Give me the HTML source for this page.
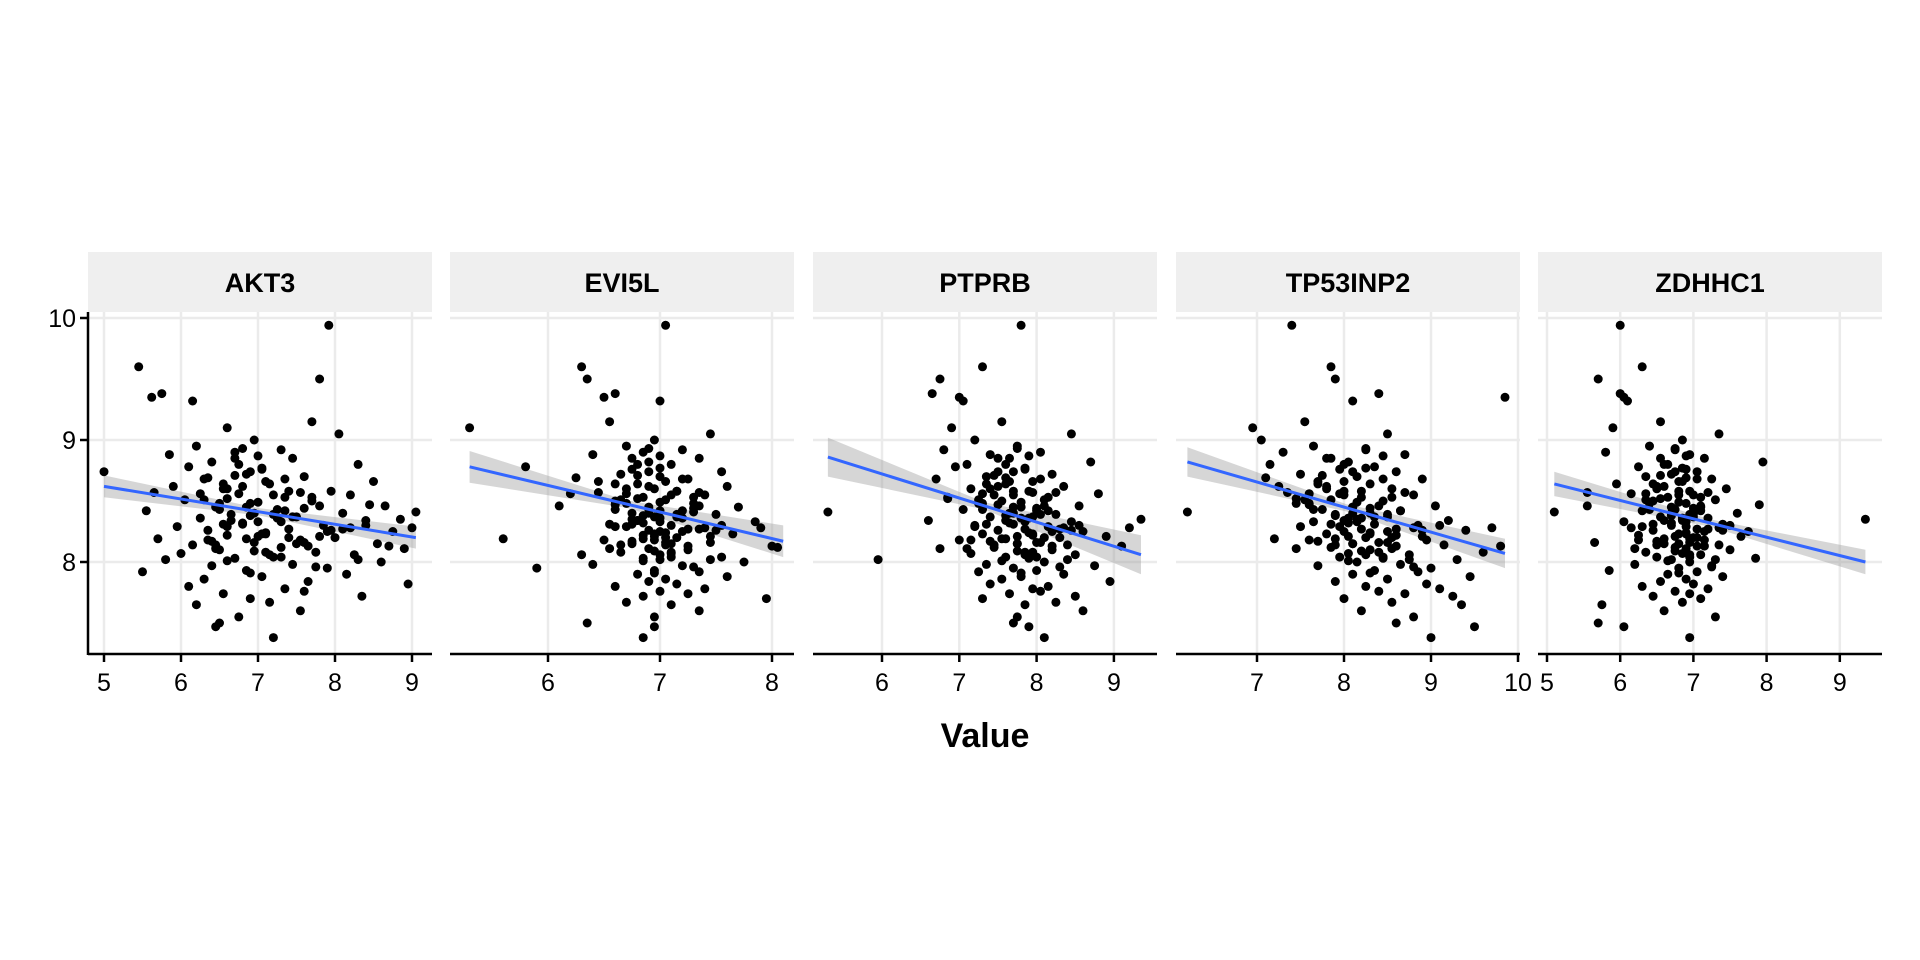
<!DOCTYPE html>
<html><head><meta charset="utf-8"><style>
html,body{margin:0;padding:0;background:#fff;}
svg{display:block;font-family:"Liberation Sans",sans-serif;}
</style></head><body>
<svg id="chart" width="1920" height="960" viewBox="0 0 1920 960" xmlns="http://www.w3.org/2000/svg">
<rect width="1920" height="960" fill="#fff"/>
<text x="985" y="747" text-anchor="middle" font-size="34" font-weight="bold">Value</text>
</svg>
<script>
const panelNames = ["AKT3","EVI5L","PTPRB","TP53INP2","ZDHHC1"];
const yTicks = [8,9,10];
const xTicks = [[5,6,7,8,9],[6,7,8],[6,7,8,9],[7,8,9,10],[5,6,7,8,9]];
const yVals = [9.94,9.60,9.50,9.38,9.35,9.32,9.15,9.10,9.05,9.00,
8.95,8.92,8.90,8.88,8.85,8.82,8.80,8.78,8.76,8.74,
8.72,8.70,8.68,8.66,8.64,8.62,8.60,8.58,8.56,8.55,
8.53,8.51,8.50,8.48,8.46,8.45,8.43,8.42,8.40,8.39,
8.37,8.36,8.34,8.33,8.31,8.30,8.29,8.27,8.26,8.25,
8.23,8.22,8.20,8.19,8.18,8.16,8.15,8.14,8.12,8.11,
8.10,8.08,8.07,8.06,8.04,8.03,8.02,8.00,7.98,7.97,
7.95,7.93,7.92,7.90,7.88,7.86,7.84,7.82,7.80,7.78,
7.76,7.74,7.72,7.70,7.67,7.65,7.60,7.55,7.50,7.47,
8.41,8.35,8.28,8.47,8.52,8.21,8.13,8.57,8.69,7.38,
8.62,8.55,8.48,8.44,8.38,8.33,8.29,8.25,8.21,8.17,
8.71,8.66,8.58,8.51,8.46,8.40,8.36,8.31,8.27,8.23,
8.19,8.15,8.11,8.06,8.02,8.80,8.74,8.68,8.60,8.53,
8.49,8.43,8.37,8.32,8.28,8.24,8.18,8.13,8.09,8.04,
8.85,8.77,8.64,8.57,8.45,8.39,8.34,8.26,8.20,8.14,
8.08,8.01,7.96,7.91,8.93,8.87,8.56,8.42,8.30,8.16];
const xAKT3 = [7.92,5.45,7.80,5.75,5.62,6.15,7.70,6.60,8.05,6.95,
6.20,7.30,6.70,5.85,7.45,6.40,8.30,6.10,7.05,5.00,
6.85,7.60,6.30,8.50,7.15,5.90,6.55,7.95,6.75,8.20,
7.35,6.05,7.70,6.90,8.65,6.45,7.25,5.55,8.10,6.65,
7.50,6.25,8.40,7.00,6.80,7.85,5.95,7.40,6.35,8.75,
7.10,6.60,8.00,5.70,7.55,6.95,8.55,6.15,7.30,8.90,
6.50,7.75,6.00,8.25,7.20,6.70,5.80,8.60,7.45,6.40,
7.90,6.85,5.50,8.15,7.05,6.30,7.65,8.95,6.10,7.35,
7.60,6.55,8.35,6.90,7.15,6.20,7.55,6.75,6.50,6.45,
9.05,8.85,9.00,8.45,6.60,7.80,8.70,5.65,6.35,7.20,
6.8,7.2,6.5,7.6,6.9,7.3,6.6,7.9,7.0,6.4,
6.7,7.1,7.4,6.3,7.8,6.95,7.25,6.55,8.1,7.05,
6.85,7.5,6.45,7.15,8.3,6.75,6.9,7.35,6.6,7.7,
7.0,6.5,7.45,6.8,8.2,7.1,6.35,7.65,6.95,7.3,
6.7,7.05,6.55,7.55,6.85,7.2,6.65,7.95,7.4,6.45,
7.1,6.6,7.75,6.9,6.8,7.0,6.25,7.35,8.4,7.6];
const xEVI5L = [7.05,6.30,6.35,6.60,6.50,7.00,6.55,5.30,7.45,6.95,
6.70,7.20,6.85,6.40,7.35,6.90,7.10,5.80,6.75,7.55,
6.65,7.00,7.25,6.45,6.80,7.60,6.95,7.15,6.20,7.40,
6.85,7.05,6.60,7.30,6.10,7.70,6.90,7.00,6.75,7.50,
6.95,7.20,6.80,7.85,6.55,7.10,6.70,7.35,6.90,7.00,
7.65,6.85,7.15,5.60,6.95,7.45,6.75,7.05,8.05,6.90,
7.25,6.65,7.10,6.30,7.55,6.85,7.00,7.75,6.40,7.20,
5.90,6.95,7.35,6.80,7.60,7.05,6.90,7.15,6.60,7.40,
7.00,7.25,6.85,7.95,6.70,7.10,7.35,6.95,6.35,6.95,
7.30,6.75,7.90,6.60,6.80,7.45,8.00,6.45,6.25,6.85,
6.9,7.1,6.7,7.3,6.85,7.0,6.6,7.2,6.95,6.75,
6.8,7.05,7.15,6.65,7.35,6.9,7.0,6.75,7.25,6.95,
6.85,7.1,6.55,7.0,7.45,6.8,6.9,7.2,6.7,7.3,
7.0,6.6,7.15,6.85,7.4,7.05,6.5,7.25,6.95,7.1,
6.75,7.0,6.6,7.35,6.9,7.15,6.8,7.5,7.05,6.65,
7.1,6.85,7.3,6.95,6.9,7.0,6.7,7.2,7.55,7.05];
const xPTPRB = [7.80,7.30,6.75,6.65,7.00,7.05,7.55,6.90,8.45,7.20,
7.75,6.80,8.05,7.40,7.65,8.70,7.10,6.95,7.85,7.50,
8.20,7.35,6.70,7.95,7.60,8.35,7.15,7.70,8.80,7.45,
6.85,8.10,7.55,7.25,8.55,7.80,7.05,8.00,7.65,8.25,
7.40,7.90,6.60,8.45,7.70,7.20,8.15,7.85,7.50,8.60,
7.30,7.95,8.30,7.60,7.00,8.05,7.75,8.40,7.45,6.75,
8.20,7.85,7.15,8.50,7.60,7.90,5.95,8.10,7.35,8.75,
7.70,8.00,7.25,8.35,7.80,7.55,8.95,7.40,8.15,7.95,
8.05,7.65,8.50,7.30,8.25,7.85,8.60,7.75,7.70,7.90,
5.30,9.35,9.20,7.50,6.85,8.90,9.10,7.95,7.60,8.10,
7.5,7.7,7.3,8.0,7.6,7.85,7.2,8.2,7.75,7.4,
7.45,7.65,7.9,7.25,8.1,7.7,7.8,7.35,8.3,7.95,
7.55,7.75,7.1,7.85,8.4,7.6,7.7,8.05,7.4,8.15,
7.8,7.3,7.95,7.65,8.35,7.9,7.15,8.2,7.75,8.0,
7.5,7.85,7.35,8.25,7.7,8.05,7.6,8.45,8.1,7.45,
7.95,7.55,8.3,7.8,7.75,7.9,7.3,8.15,8.55,8.0];
const xTP53INP2 = [7.40,7.85,7.90,8.40,9.85,8.10,7.55,6.95,8.50,7.05,
7.65,8.25,7.30,8.70,7.80,8.05,7.15,8.35,7.95,8.60,
7.50,8.15,8.90,7.70,8.30,7.25,8.55,8.00,7.60,8.80,
8.20,7.85,8.45,7.45,9.05,8.10,7.75,8.65,8.30,7.90,
8.50,8.05,9.20,7.65,8.35,8.85,7.95,8.20,9.40,8.00,
7.80,8.60,8.25,7.20,8.95,8.40,8.10,9.15,7.85,8.55,
8.30,9.60,8.05,8.75,7.95,8.45,9.30,8.15,8.65,7.70,
9.00,8.35,8.85,8.10,9.45,8.50,7.90,8.95,8.25,9.10,
8.40,8.70,9.25,8.00,8.55,9.35,8.20,8.80,8.60,9.50,
6.20,8.15,9.70,7.60,7.45,8.90,9.80,7.35,7.10,9.00,
7.8,8.0,7.6,8.3,7.9,8.15,7.5,8.5,8.05,7.7,
7.75,8.0,8.2,7.55,8.4,8.1,8.2,7.85,8.6,8.3,
7.9,8.1,7.45,8.25,8.75,8.0,8.1,8.45,7.8,8.55,
8.15,7.65,8.35,8.05,8.8,8.3,7.6,8.6,8.2,8.45,
7.85,8.25,7.7,8.7,8.1,8.5,8.0,8.9,8.55,7.9,
8.4,8.05,8.8,8.3,8.25,8.45,7.95,8.65,9.1,8.5];
const xZDHHC1 = [6.00,6.30,5.70,6.00,6.05,6.10,6.55,5.90,7.35,6.85,
6.40,6.75,5.80,6.95,7.15,7.95,6.60,6.25,6.90,7.05,
6.70,6.35,7.25,6.85,5.95,6.50,7.45,6.80,6.15,7.00,
6.65,7.30,6.45,6.90,5.55,7.10,6.75,6.30,7.60,6.95,
6.55,7.20,6.85,6.05,7.40,6.70,6.90,7.05,6.45,7.75,
6.80,6.25,7.00,6.95,7.15,5.65,6.60,7.35,6.75,6.90,
7.50,6.35,6.85,7.10,6.50,7.85,6.70,6.95,6.20,7.25,
6.80,5.85,7.05,6.65,7.40,6.90,6.55,7.00,6.30,7.20,
6.75,6.95,6.45,7.10,6.85,5.75,6.60,7.30,5.70,6.05,
5.10,9.35,6.15,7.90,6.55,7.65,7.05,5.55,6.90,6.95,
6.6,6.8,6.4,7.0,6.7,6.9,6.3,7.15,6.75,6.5,
6.55,6.8,6.95,6.35,7.1,6.7,6.85,6.45,7.2,6.9,
6.6,6.8,6.2,6.95,7.3,6.65,6.75,7.05,6.5,7.1,
6.8,6.4,7.0,6.7,7.35,6.9,6.25,7.15,6.75,6.95,
6.55,6.85,6.45,7.2,6.7,7.0,6.6,7.4,7.05,6.5,
6.9,6.65,7.25,6.8,6.75,6.9,6.35,7.1,7.5,6.95];
// regression fit: x range and fitted y at each end, band half-width at ends and middle
const fitX0 = [5.0,5.3,5.3,6.2,5.1];
const fitX1 = [9.05,8.1,9.35,9.85,9.35];
const fitY0 = [8.62,8.78,8.86,8.82,8.64];
const fitY1 = [8.20,8.17,8.06,8.07,8.00];
const bandEnd = [0.09,0.13,0.16,0.12,0.10];
const bandMid = [0.03,0.03,0.03,0.03,0.03];

const xSeries = [xAKT3,xEVI5L,xPTPRB,xTP53INP2,xZDHHC1];
const panelLeft = [88,450,813,1176,1538];
const panelW = 344;
const xAnchorVal = [5,6,6,7,5], xAnchorPx = [104,548,882,1257,1547], xUnitPx = [77,112,77.3,87,73.2];
const plotTop = 312, plotBot = 654, stripTop = 252;
function yScale(v){ return 562 - (v-8)*122; }
function xScale(p,v){ return xAnchorPx[p] + (v - xAnchorVal[p]) * xUnitPx[p]; }

const svg = document.getElementById('chart');
const NS = 'http://www.w3.org/2000/svg';
function mk(tag, attrs, parent){
  const e = document.createElementNS(NS, tag);
  for (const k in attrs) e.setAttribute(k, attrs[k]);
  (parent||svg).appendChild(e);
  return e;
}

for (let p=0; p<5; p++){
  const g = mk('g', {});
  
  
  const L = panelLeft[p], R = L + panelW;
  const strip = mk('rect', {x:L, y:stripTop, width:panelW, height:plotTop-stripTop, fill:'#efefef'}, g);
  
  
  const st = mk('text', {x:L+panelW/2, y:292, 'text-anchor':'middle', 'font-size':27, 'font-weight':'bold', fill:'#000'}, g);
  st.textContent = panelNames[p];
  
  
  yTicks.forEach(t => {
    const gl = mk('line', {x1:L, x2:R, y1:yScale(t), y2:yScale(t), stroke:'#ebebeb', 'stroke-width':2.5}, g);
    
    
  });
  xTicks[p].forEach(t => {
    const x = xScale(p,t);
    const gl = mk('line', {x1:x, x2:x, y1:plotTop, y2:plotBot, stroke:'#ebebeb', 'stroke-width':2.5}, g);
    
    
    const tk = mk('line', {x1:x, x2:x, y1:plotBot, y2:plotBot+8, stroke:'#000', 'stroke-width':2.5}, g);
    
    
    const tl = mk('text', {x:x, y:plotBot+37, 'text-anchor':'middle', 'font-size':25, fill:'#000'}, g);
    tl.textContent = t;
    
    
  });
  const x0 = xScale(p,fitX0[p]), x1 = xScale(p,fitX1[p]);
  const xm = (fitX0[p]+fitX1[p])/2, ym = (fitY0[p]+fitY1[p])/2;
  const top = [[fitX0[p],fitY0[p]+bandEnd[p]],[xm,ym+bandMid[p]],[fitX1[p],fitY1[p]+bandEnd[p]]];
  const bot = [[fitX1[p],fitY1[p]-bandEnd[p]],[xm,ym-bandMid[p]],[fitX0[p],fitY0[p]-bandEnd[p]]];
  const d = 'M' + top.concat(bot).map(q => xScale(p,q[0]).toFixed(1)+','+yScale(q[1]).toFixed(1)).join(' L') + 'Z';
  const band = mk('path', {d:d, fill:'#999', 'fill-opacity':0.4}, g);
  
  
  const xs = xSeries[p];
  for (let i=0;i<yVals.length;i++){
    const c = mk('circle', {cx:xScale(p,xs[i]).toFixed(1), cy:yScale(yVals[i]).toFixed(1), r:4.5, fill:'#000'}, g);
    
    
  }
  const ln = mk('line', {x1:x0, y1:yScale(fitY0[p]), x2:x1, y2:yScale(fitY1[p]), stroke:'#3366ff', 'stroke-width':3}, g);
  
  
  const ax = mk('line', {x1:L, x2:R, y1:plotBot, y2:plotBot, stroke:'#000', 'stroke-width':2.5}, g);
  
  
  if (p===0){
    const ya = mk('line', {x1:L, x2:L, y1:plotTop, y2:plotBot+1, stroke:'#000', 'stroke-width':2.5}, g);
    
    
    yTicks.forEach(t => {
      const tk = mk('line', {x1:L-8, x2:L, y1:yScale(t), y2:yScale(t), stroke:'#000', 'stroke-width':2.5}, g);
      
      
      const tl = mk('text', {x:L-12, y:yScale(t)+9, 'text-anchor':'end', 'font-size':25, fill:'#000'}, g);
      tl.textContent = t;
      
      
    });
  }
}
</script>
</body></html>
